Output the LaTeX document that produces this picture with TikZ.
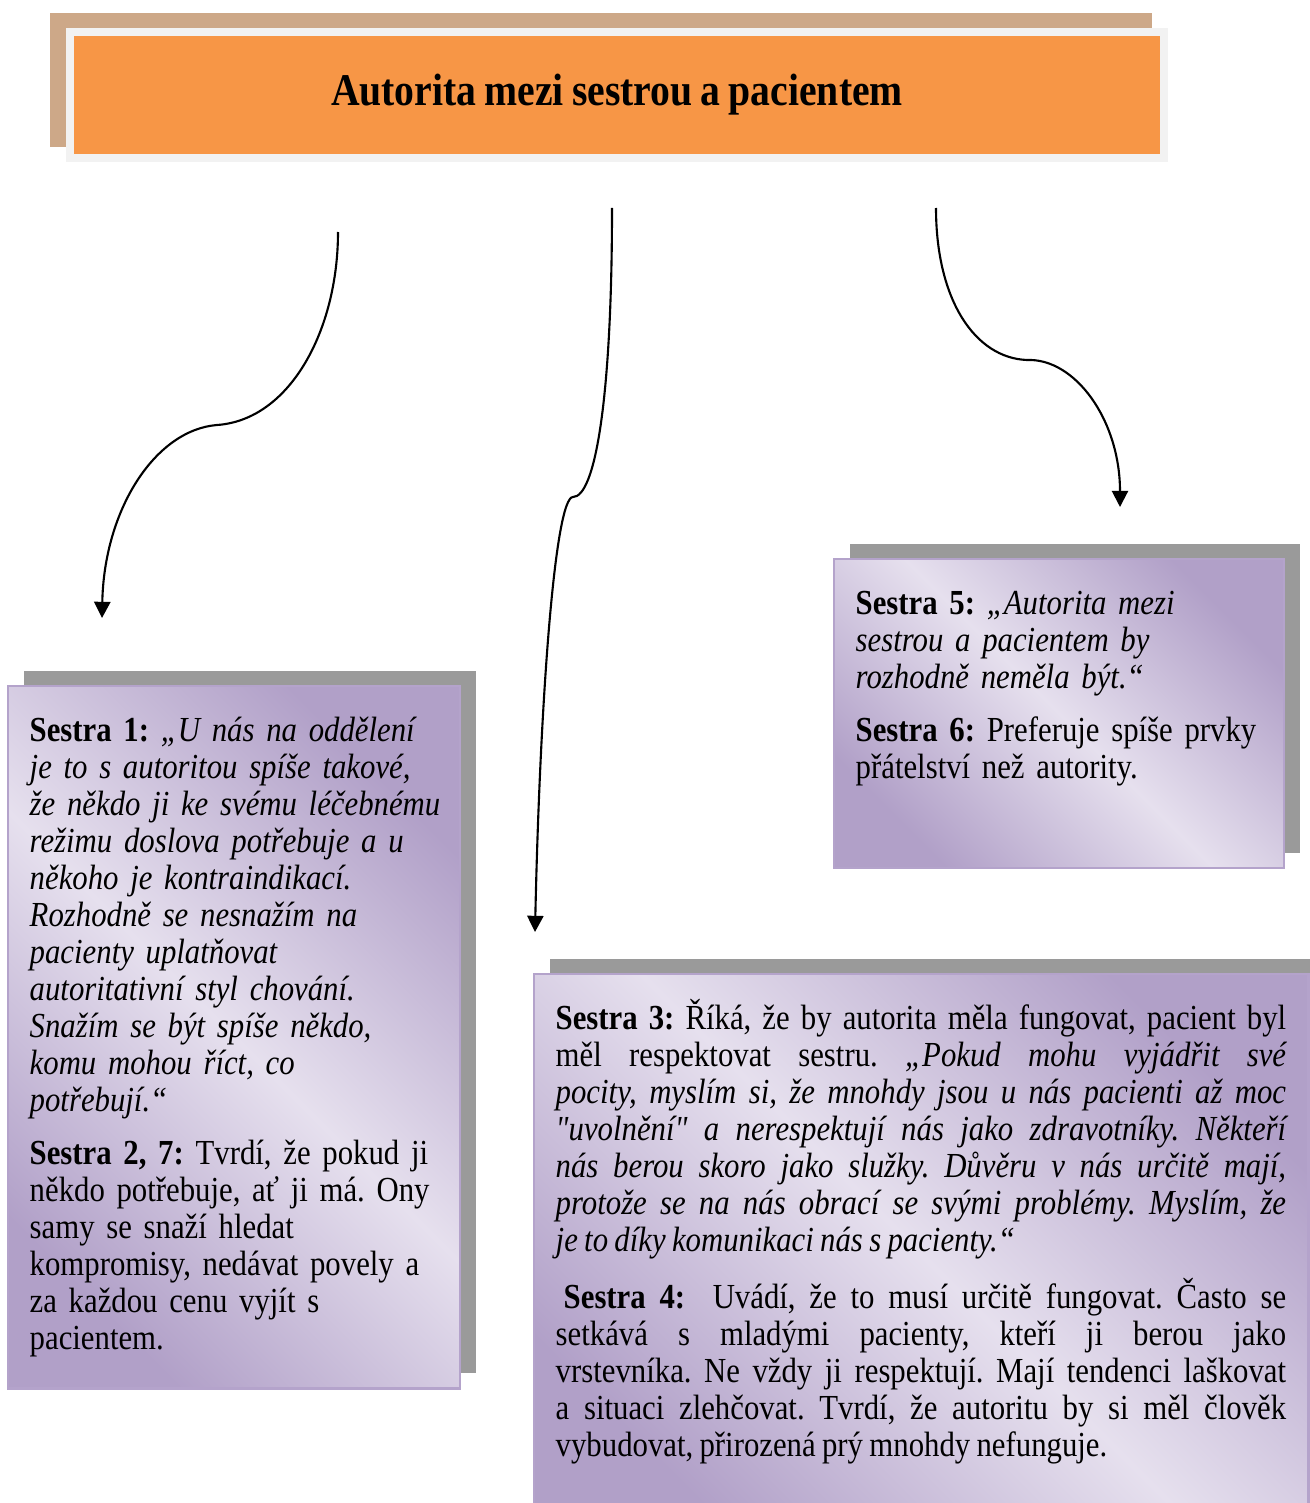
\documentclass[tikz,border=0pt]{standalone}
\usepackage{fontspec}
\newfontfamily\notefamily{Liberation Serif}[FakeStretch=0.875, WordSpace=0.82]
\usetikzlibrary{arrows.meta,shadows,positioning}
\definecolor{titleorange}{HTML}{F79646}
\definecolor{titleframe}{HTML}{F2F2F2}
\definecolor{titleshadow}{HTML}{CDA888}
\definecolor{lavlight}{HTML}{E6E0EE}
\definecolor{lavdark}{HTML}{B1A0C8}
\definecolor{lavborder}{HTML}{B4A3CB}
\definecolor{boxshadow}{HTML}{9A9A9A}
\newcommand\notefont{\notefamily\frenchspacing\fontsize{10}{10.53}\selectfont}
\newcommand\headfont{\notefamily\fontsize{12.9}{15}\selectfont\bfseries}
\tikzset{
	% ------- every something
	every node/.style={
		inner sep=0pt,
	},
	% ------- custom
	connector/.style={
		-{Triangle[width=4.6pt,length=4.6pt]},
		line width=0.6pt,
	},
	head box/.style={
		draw=titleframe,
		line width=0.08cm,
		fill=titleorange,
		minimum width=10.94cm,
		minimum height=1.26cm,
		font=\headfont,
		general shadow={
			draw=titleshadow, fill=titleshadow, line width=0.08cm,
			shadow xshift=-0.16cm, shadow yshift=0.15cm,
		},
	},
	note box/.style={
		draw=lavborder,
		line width=0.6pt,
		top color=lavdark, bottom color=lavdark, middle color=lavlight,
		shading angle=-45,
		anchor=north west,
		general shadow={
			fill=boxshadow,
			shadow xshift=0.155cm, shadow yshift=0.155cm,
		},
	},
	note text/.style={
		font=\notefont,
		align=left,
	},
}
\begin{document}
\begin{tikzpicture}[x=0.01cm, y=-0.01cm]

% frame %{{{2

	\useasboundingbox (0,0) rectangle (1309,1503);

% title %{{{2

	\node[head box] (head) at (617,95) {Autorita mezi sestrou a pacientem};

% boxes %{{{2

	\node[note box, minimum width=4.52cm, minimum height=7.02cm] (b1) at (7,685) {};
	\node[note box, minimum width=4.50cm, minimum height=3.09cm] (b5) at (833,558) {};
	\node[note box, minimum width=7.74cm, minimum height=5.60cm] (b3) at (533,973) {};

% box texts %{{{2

	\node[note text, text width=4.3cm, below right=0.56cm and 0.22cm of b1.north west, anchor=base west] (t1) {%
		\textbf{Sestra 1:} {\itshape „U nás na oddělení\\
		je to s autoritou spíše takové,\\
		že někdo ji ke svému léčebnému\\
		režimu doslova potřebuje a u\\
		někoho je kontraindikací.\\
		Rozhodně se nesnažím na\\
		pacienty uplatňovat\\
		autoritativní styl chování.\\
		Snažím se být spíše někdo,\\
		komu mohou říct, co\\
		potřebují.“}\\[0.16cm]
		\textbf{Sestra 2, 7:} Tvrdí, že pokud ji\\
		někdo potřebuje, ať ji má. Ony\\
		samy se snaží hledat\\
		kompromisy, nedávat povely a\\
		za každou cenu vyjít s\\
		pacientem.};

	\node[note text, text width=4.2cm, below right=0.56cm and 0.22cm of b5.north west, anchor=base west] (t5) {%
		\textbf{Sestra 5:} {\itshape „Autorita mezi\\
		sestrou a pacientem by\\
		rozhodně neměla být.“}\\[0.16cm]
		\textbf{Sestra 6:} Preferuje spíše prvky\\
		přátelství než autority.};

	\node[note text, align=justify, text width=7.30cm, below right=0.56cm and 0.22cm of b3.north west, anchor=base west] (t3) {%
		\textbf{Sestra 3:} Říká, že by autorita měla fungovat, pacient byl\linebreak
		měl respektovat sestru. {\itshape „Pokud mohu vyjádřit své\linebreak
		pocity, myslím si, že mnohdy jsou u nás pacienti až moc\linebreak
		"uvolnění" a nerespektují nás jako zdravotníky. Někteří\linebreak
		nás berou skoro jako služky. Důvěru v nás určitě mají,\linebreak
		protože se na nás obrací se svými problémy. Myslím, že\linebreak
		je to díky komunikaci nás s pacienty.“}\par\vspace{0.16cm}
		\hspace*{0.08cm}\textbf{Sestra 4:}\ \ Uvádí, že to musí určitě fungovat. Často se\linebreak
		setkává s mladými pacienty, kteří ji berou jako\linebreak
		vrstevníka. Ne vždy ji respektují. Mají tendenci laškovat\linebreak
		a situaci zlehčovat. Tvrdí, že autoritu by si měl člověk\linebreak
		vybudovat, přirozená prý mnohdy nefunguje.};

% connectors %{{{2

	\coordinate (left from) at (338,232);
	\coordinate (left bend) at (217,425);
	\coordinate (left to) at (102,618);

	\coordinate (mid from) at (612,208);
	\coordinate (mid bend) at (573,497);
	\coordinate (mid to) at (535,932);

	\coordinate (right from) at (936,208);
	\coordinate (right bend) at (1027,360);
	\coordinate (right to) at (1120,507);

	\draw[connector] (left from) .. controls (338,330) and (290,420) .. (left bend)
		.. controls (155,430) and (104,510) .. (left to);
	\draw[connector] (mid from) .. controls (612,400) and (595,497) .. (mid bend)
		.. controls (555,497) and (540,700) .. (mid to);
	\draw[connector] (right from) .. controls (936,300) and (975,358) .. (right bend)
		.. controls (1075,358) and (1120,420) .. (right to);

% closing %{{{2

\end{tikzpicture}
\end{document}
